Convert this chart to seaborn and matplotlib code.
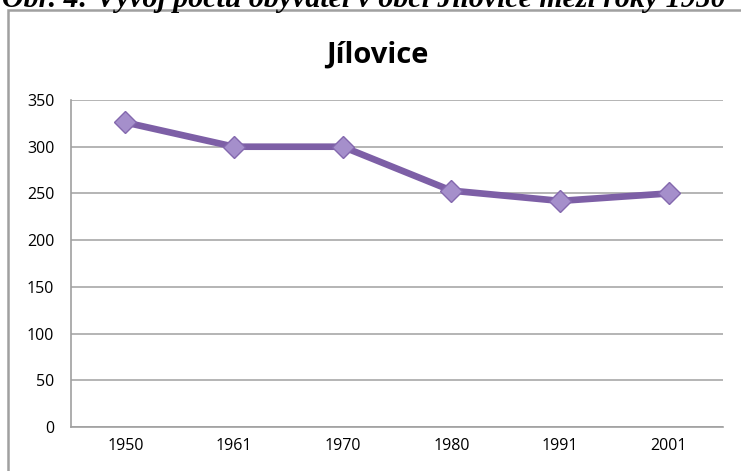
import matplotlib
matplotlib.use("Agg")
import matplotlib.pyplot as plt
import seaborn as sns
import pandas as pd
from matplotlib.patches import Rectangle
from matplotlib.ticker import FixedLocator

years = ["1950", "1961", "1970", "1980", "1991", "2001"]
population = [326, 300, 300, 253, 242, 250]
y_ticks = [0, 50, 100, 150, 200, 250, 300, 350]
title = "Jílovice"
caption = "Obr. 4: Vývoj počtu obyvatel v obci Jílovice mezi roky 1950"

sns.set_theme(style="white")
plt.rcParams["font.family"] = ["Open Sans", "DejaVu Sans"]

W, H = 741, 471
fig = plt.figure(figsize=(W / 100, H / 100), dpi=100)
ax = fig.add_axes([71 / W, (H - 427) / H, 652 / W, 327 / H])

df = pd.DataFrame({"pos": list(range(len(years))), "value": population})
sns.lineplot(data=df, x="pos", y="value", ax=ax, color="#7D5FA6", linewidth=4.8,
             marker="D", markersize=11, markerfacecolor="#A58FCB",
             markeredgecolor="#8468AE", markeredgewidth=1.0, zorder=3)

ax.set_xlim(-0.5, len(years) - 0.5)
ax.set_ylim(0, 350)
ax.set_yticks(y_ticks)
ax.set_yticklabels([str(v) for v in y_ticks], fontsize=11.5)
ax.set_xticks(range(len(years)))
ax.set_xticklabels(years, fontsize=11.5)
ax.xaxis.set_minor_locator(FixedLocator([i - 0.5 for i in range(len(years) + 1)]))
ax.tick_params(axis="x", which="major", length=0, pad=8)
ax.tick_params(axis="x", which="minor", length=5, width=1.2, direction="out")
ax.tick_params(axis="y", which="major", length=5, width=1.2, direction="out", pad=7)
ax.tick_params(axis="both", which="both", color="#A0A0A0", labelcolor="black")
ax.set_xlabel("")
ax.set_ylabel("")
ax.grid(axis="y", color="#A8A8A8", linewidth=1.2)
ax.grid(axis="x", visible=False)
for s in ["top", "right"]:
    ax.spines[s].set_visible(False)
for s in ["left", "bottom"]:
    ax.spines[s].set_color("#A0A0A0")
    ax.spines[s].set_linewidth(1.2)
ax.set_axisbelow(True)

fig.text(377 / W, 1 - 55 / H, title, ha="center", va="center", fontsize=21,
         fontweight="bold", color="black")

fig.text(2 / W, 1 - 7 / H, caption, ha="left", va="baseline", fontsize=21.5,
         fontweight="bold", fontstyle="italic", family=["Liberation Serif"], color="black")

fig.patches.append(Rectangle((8 / W, -0.1), 1.2, (H - 10) / H + 0.1,
                             transform=fig.transFigure, fill=False,
                             edgecolor="#A0A0A0", linewidth=1.8, figure=fig))

fig.savefig("out.png", dpi=100)
